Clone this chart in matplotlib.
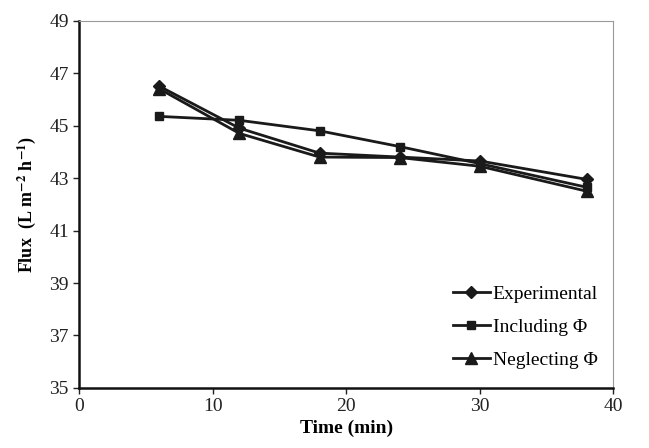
import matplotlib
matplotlib.use('Agg')
import matplotlib.pyplot as plt

plt.rcParams['font.family'] = ['Liberation Serif', 'DejaVu Serif']
plt.rcParams['mathtext.fontset'] = 'stix'

time = [6, 12, 18, 24, 30, 38]
experimental = [46.5, 44.9, 43.95, 43.8, 43.65, 42.95]
including_phi = [45.35, 45.2, 44.8, 44.2, 43.55, 42.65]
neglecting_phi = [46.4, 44.7, 43.8, 43.78, 43.45, 42.5]

fig = plt.figure(figsize=(6.49, 4.48), dpi=100)
ax = fig.add_axes([0.122, 0.134, 0.823, 0.820])

ax.plot(time, experimental, color='#1a1a1a', lw=2, marker='D', ms=6.5, label='Experimental')
ax.plot(time, including_phi, color='#1a1a1a', lw=2, marker='s', ms=6, label='Including \u03a6')
ax.plot(time, neglecting_phi, color='#1a1a1a', lw=2, marker='^', ms=8, label='Neglecting \u03a6')

ax.set_xlim(0, 40)
ax.set_ylim(35, 49)
ax.set_xticks(range(0, 41, 10))
ax.set_yticks(range(35, 50, 2))
ax.tick_params(direction='out', length=4, width=1, labelsize=14, colors='#222222')

for side in ['left', 'bottom']:
    ax.spines[side].set_linewidth(1.8)
    ax.spines[side].set_color('#111111')
for side in ['top', 'right']:
    ax.spines[side].set_linewidth(0.8)
    ax.spines[side].set_color('#999999')

ax.set_xlabel('Time (min)', fontsize=14, fontweight='bold', labelpad=3)
ax.set_ylabel(r'Flux  (L m$^{\mathbf{-2}}$ h$^{\mathbf{-1}}$)', fontsize=13, fontweight='bold', labelpad=8)

ax.legend(loc='lower right', bbox_to_anchor=(1.004, 0.004), frameon=False, fontsize=14,
          handlelength=1.9, handletextpad=0.15, labelspacing=0.8)

fig.savefig('out.png', dpi=100)
